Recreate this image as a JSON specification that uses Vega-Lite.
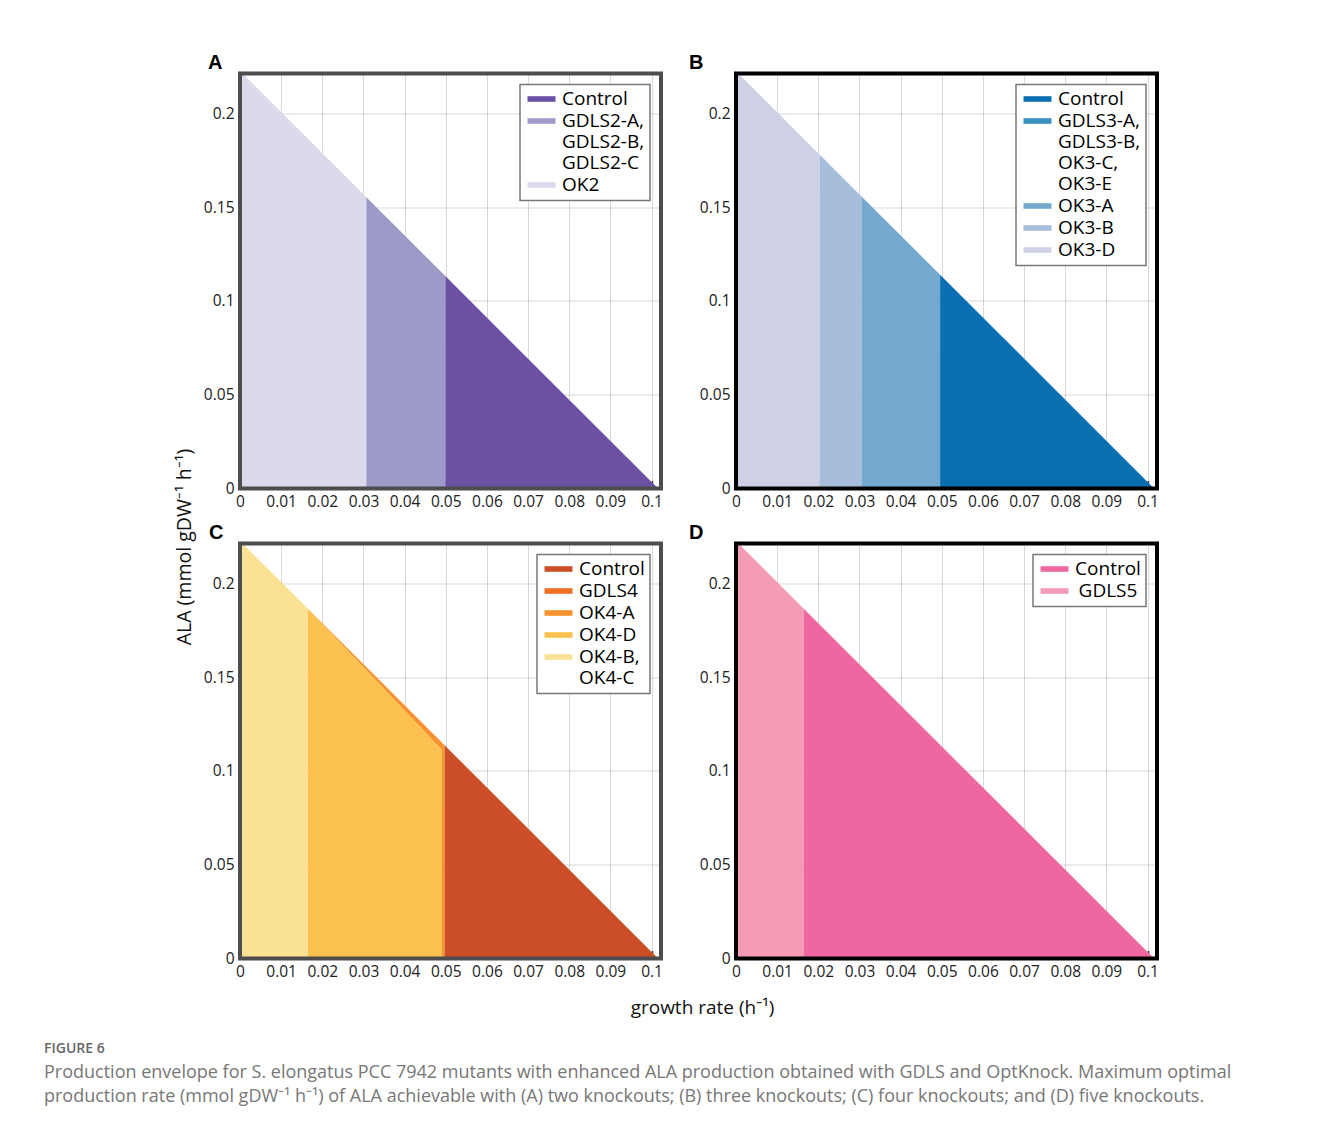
{
  "$schema": "https://vega.github.io/schema/vega-lite/v6.json",
  "padding": {"left": 44, "top": 52.5, "right": 5, "bottom": 5},
  "background": "white",
  "datasets": {
    "A": [
      {"s": "OK2", "x": 0, "y": 0.2225, "lo": 0},
      {"s": "OK2", "x": 0.0307, "y": 0.1553, "lo": 0},
      {"s": "GDLS2-A, GDLS2-B, GDLS2-C", "x": 0.0307, "y": 0.1553, "lo": 0},
      {"s": "GDLS2-A, GDLS2-B, GDLS2-C", "x": 0.0499, "y": 0.1132, "lo": 0},
      {"s": "Control", "x": 0.0499, "y": 0.1132, "lo": 0},
      {"s": "Control", "x": 0.1016, "y": 0, "lo": 0}
    ],
    "B": [
      {"s": "OK3-D", "x": 0, "y": 0.2225, "lo": 0},
      {"s": "OK3-D", "x": 0.0203, "y": 0.178, "lo": 0},
      {"s": "OK3-B", "x": 0.0203, "y": 0.178, "lo": 0},
      {"s": "OK3-B", "x": 0.0305, "y": 0.1557, "lo": 0},
      {"s": "OK3-A", "x": 0.0305, "y": 0.1557, "lo": 0},
      {"s": "OK3-A", "x": 0.0496, "y": 0.1139, "lo": 0},
      {"s": "Control", "x": 0.0496, "y": 0.1139, "lo": 0},
      {"s": "Control", "x": 0.1016, "y": 0, "lo": 0}
    ],
    "C": [
      {"s": "OK4-B, OK4-C", "x": 0, "y": 0.2225, "lo": 0},
      {"s": "OK4-B, OK4-C", "x": 0.0165, "y": 0.1864, "lo": 0},
      {"s": "OK4-A", "x": 0.0165, "y": 0.1864, "lo": 0.1864},
      {"s": "OK4-A", "x": 0.049, "y": 0.1152, "lo": 0.1112},
      {"s": "OK4-A", "x": 0.0491, "y": 0.115, "lo": 0},
      {"s": "OK4-A", "x": 0.0497, "y": 0.1137, "lo": 0},
      {"s": "OK4-D", "x": 0.0165, "y": 0.1864, "lo": 0},
      {"s": "OK4-D", "x": 0.0491, "y": 0.111, "lo": 0},
      {"s": "Control", "x": 0.0497, "y": 0.1137, "lo": 0},
      {"s": "Control", "x": 0.1016, "y": 0, "lo": 0}
    ],
    "D": [
      {"s": "GDLS5", "x": 0, "y": 0.2225, "lo": 0},
      {"s": "GDLS5", "x": 0.0164, "y": 0.1866, "lo": 0},
      {"s": "Control", "x": 0.0164, "y": 0.1866, "lo": 0},
      {"s": "Control", "x": 0.1016, "y": 0, "lo": 0}
    ],
    "frame": [{"x0": 0, "x1": 0.1023, "y0": 0, "y1": 0.2212}]
  },
  "title": {
    "text": "FIGURE 6",
    "subtitle": [
      "Production envelope for S. elongatus PCC 7942 mutants with enhanced ALA production obtained with GDLS and OptKnock. Maximum optimal",
      "production rate (mmol gDW⁻¹ h⁻¹) of ALA achievable with (A) two knockouts; (B) three knockouts; (C) four knockouts; and (D) five knockouts."
    ],
    "orient": "bottom",
    "anchor": "start",
    "frame": "bounds",
    "dx": -130.5,
    "offset": 24,
    "font": "Open Sans",
    "fontSize": 14,
    "fontWeight": 600,
    "color": "#666666",
    "subtitleFont": "Open Sans",
    "subtitleFontSize": 18,
    "subtitleColor": "#777777",
    "subtitleLineHeight": 24,
    "subtitlePadding": 8
  },
  "columns": 2,
  "spacing": {"row": 55, "column": 75},
  "bounds": "flush",
  "resolve": {"scale": {"color": "independent"}, "legend": {"color": "independent"}},
  "concat": [
    {
      "width": 421, "height": 415,
      "view": {"stroke": null},
      "title": {"text": "A", "dx": -32},
      "layer": [
        {
          "data": {"name": "A"},
          "mark": {"type": "area"},
          "encoding": {
            "x": {"field": "x", "type": "quantitative", "scale": {"domain": [0, 0.1023], "nice": false}, "axis": {"title": null, "values": [0, 0.01, 0.02, 0.03, 0.04, 0.05, 0.06, 0.07, 0.08, 0.09, 0.1]}},
            "y": {"field": "y", "type": "quantitative", "stack": null, "scale": {"domain": [0, 0.2212], "nice": false}, "axis": {"title": "ALA (mmol gDW⁻¹ h⁻¹)", "titleX": -45.5, "titleY": 473, "titleBaseline": "bottom", "titleAlign": "center", "titleFontSize": 19.5, "values": [0, 0.05, 0.1, 0.15, 0.2]}},
            "y2": {"field": "lo"},
            "color": {"field": "s", "type": "nominal",
              "scale": {"domain": ["Control", "GDLS2-A, GDLS2-B, GDLS2-C", "OK2"], "range": ["#6a51a3", "#9e9ac8", "#dadaeb"]},
              "legend": {"title": null, "labelExpr": "split(datum.label, ' ')", "encode": {"labels": {"update": {"dy": {"value": 6}, "lineHeight": {"value": 21}}}}}}
          }
        },
        {
          "data": {"name": "frame"},
          "mark": {"type": "rect", "fill": null, "stroke": "#4d4d4d", "strokeWidth": 4},
          "encoding": {
            "x": {"field": "x0", "type": "quantitative"},
            "x2": {"field": "x1"},
            "y": {"field": "y0", "type": "quantitative"},
            "y2": {"field": "y1"}
          }
        }
      ]
    },
    {
      "width": 421, "height": 415,
      "view": {"stroke": null},
      "title": {"text": "B", "dx": -47},
      "layer": [
        {
          "data": {"name": "B"},
          "mark": {"type": "area"},
          "encoding": {
            "x": {"field": "x", "type": "quantitative", "scale": {"domain": [0, 0.1023], "nice": false}, "axis": {"title": null, "values": [0, 0.01, 0.02, 0.03, 0.04, 0.05, 0.06, 0.07, 0.08, 0.09, 0.1]}},
            "y": {"field": "y", "type": "quantitative", "stack": null, "scale": {"domain": [0, 0.2212], "nice": false}, "axis": {"title": null, "values": [0, 0.05, 0.1, 0.15, 0.2]}},
            "y2": {"field": "lo"},
            "color": {"field": "s", "type": "nominal",
              "scale": {"domain": ["Control", "GDLS3-A, GDLS3-B, OK3-C, OK3-E", "OK3-A", "OK3-B", "OK3-D"], "range": ["#0a6fb1", "#3690c0", "#74a9cf", "#a6bddb", "#d0d1e6"]},
              "legend": {"title": null, "labelExpr": "split(datum.label, ' ')", "encode": {"labels": {"update": {"dy": {"value": 6}, "lineHeight": {"value": 21}}}}}}
          }
        },
        {
          "data": {"name": "frame"},
          "mark": {"type": "rect", "fill": null, "stroke": "#000000", "strokeWidth": 4},
          "encoding": {
            "x": {"field": "x0", "type": "quantitative"},
            "x2": {"field": "x1"},
            "y": {"field": "y0", "type": "quantitative"},
            "y2": {"field": "y1"}
          }
        }
      ]
    },
    {
      "width": 421, "height": 415,
      "view": {"stroke": null},
      "title": {"text": "C", "dx": -31},
      "layer": [
        {
          "data": {"name": "C"},
          "mark": {"type": "area"},
          "encoding": {
            "x": {"field": "x", "type": "quantitative", "scale": {"domain": [0, 0.1023], "nice": false}, "axis": {"title": "growth rate (h⁻¹)", "titleX": 462, "titleY": 55, "titleBaseline": "alphabetic", "titleAlign": "center", "values": [0, 0.01, 0.02, 0.03, 0.04, 0.05, 0.06, 0.07, 0.08, 0.09, 0.1]}},
            "y": {"field": "y", "type": "quantitative", "stack": null, "scale": {"domain": [0, 0.2212], "nice": false}, "axis": {"title": null, "values": [0, 0.05, 0.1, 0.15, 0.2]}},
            "y2": {"field": "lo"},
            "color": {"field": "s", "type": "nominal",
              "scale": {"domain": ["Control", "GDLS4", "OK4-A", "OK4-D", "OK4-B, OK4-C"], "range": ["#cc4e26", "#ee6e22", "#f8922e", "#fcc14e", "#fae194"]},
              "legend": {"title": null, "labelExpr": "split(datum.label, ' ')", "encode": {"labels": {"update": {"dy": {"value": 6}, "lineHeight": {"value": 21}}}}}}
          }
        },
        {
          "data": {"name": "frame"},
          "mark": {"type": "rect", "fill": null, "stroke": "#4d4d4d", "strokeWidth": 4},
          "encoding": {
            "x": {"field": "x0", "type": "quantitative"},
            "x2": {"field": "x1"},
            "y": {"field": "y0", "type": "quantitative"},
            "y2": {"field": "y1"}
          }
        }
      ]
    },
    {
      "width": 421, "height": 415,
      "view": {"stroke": null},
      "title": {"text": "D", "dx": -47},
      "layer": [
        {
          "data": {"name": "D"},
          "mark": {"type": "area"},
          "encoding": {
            "x": {"field": "x", "type": "quantitative", "scale": {"domain": [0, 0.1023], "nice": false}, "axis": {"title": null, "values": [0, 0.01, 0.02, 0.03, 0.04, 0.05, 0.06, 0.07, 0.08, 0.09, 0.1]}},
            "y": {"field": "y", "type": "quantitative", "stack": null, "scale": {"domain": [0, 0.2212], "nice": false}, "axis": {"title": null, "values": [0, 0.05, 0.1, 0.15, 0.2]}},
            "y2": {"field": "lo"},
            "color": {"field": "s", "type": "nominal",
              "scale": {"domain": ["Control", "GDLS5"], "range": ["#ef67a0", "#f49cb5"]},
              "legend": {"title": null, "labelAlign": "center", "labelOffset": 51, "labelExpr": "split(datum.label, ' ')", "encode": {"labels": {"update": {"dy": {"value": 6}, "lineHeight": {"value": 21}}}}}}
          }
        },
        {
          "data": {"name": "frame"},
          "mark": {"type": "rect", "fill": null, "stroke": "#000000", "strokeWidth": 4},
          "encoding": {
            "x": {"field": "x0", "type": "quantitative"},
            "x2": {"field": "x1"},
            "y": {"field": "y0", "type": "quantitative"},
            "y2": {"field": "y1"}
          }
        }
      ]
    }
  ],
  "config": {
    "font": "Open Sans",
    "title": {"anchor": "start", "frame": "group", "offset": -2, "baseline": "alphabetic", "fontSize": 20, "fontWeight": "bold", "font": "Liberation Sans", "color": "#000000"},
    "axis": {
      "zindex": 1,
      "domain": false,
      "grid": true,
      "gridColor": "#000000",
      "gridOpacity": 0.15,
      "gridWidth": 1,
      "ticks": true,
      "tickColor": "#333333",
      "tickSize": -8,
      "tickWidth": 1.5,
      "labelFont": "Open Sans",
      "labelFontSize": 15.5,
      "labelColor": "#222222",
      "labelPadding": 14,
      "labelFlush": false,
      "labelOverlap": false,
      "format": "~g",
      "titleFont": "Open Sans",
      "titleFontSize": 19,
      "titleFontWeight": "normal",
      "titleColor": "#111111"
    },
    "legend": {
      "orient": "top-right",
      "offset": 11,
      "strokeColor": "#777777",
      "strokeWidth": 1.5,
      "fillColor": "white",
      "padding": 5,
      "labelFont": "Open Sans",
      "labelFontSize": 19,
      "labelColor": "#000000",
      "labelLimit": 300,
      "symbolType": "M-1,-0.4H3V0.4H-1Z",
      "symbolSize": 196,
      "symbolStrokeWidth": 0,
      "labelOffset": 18,
      "rowPadding": 2,
      "labelBaseline": "alphabetic",
      "symbolOpacity": 1
    },
    "area": {"opacity": 1}
  }
}
